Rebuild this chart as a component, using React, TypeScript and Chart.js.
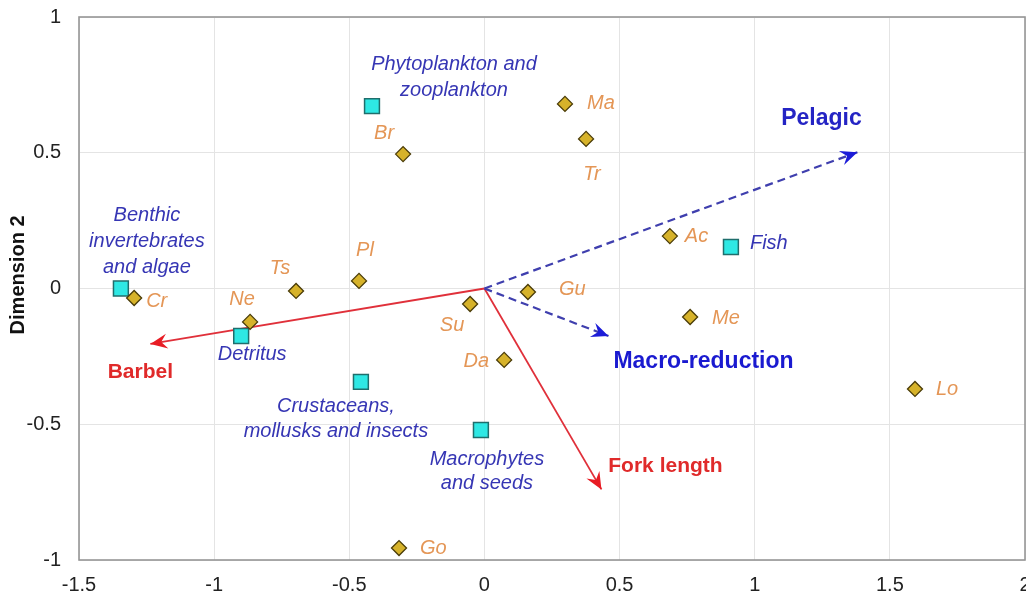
import React, { useEffect, useRef } from "react";
import { Chart, registerables } from "chart.js";

Chart.register(...registerables);

// ---------- DATA ----------
const speciesNames = ["Cr", "Ne", "Ts", "Pl", "Br", "Ma", "Tr", "Ac", "Gu", "Su", "Da", "Me", "Lo", "Go"];
const speciesX = [-1.296, -0.867, -0.697, -0.464, -0.301, 0.298, 0.376, 0.686, 0.161, -0.053, 0.073, 0.761, 1.593, -0.316];
const speciesY = [-0.035, -0.123, -0.009, 0.028, 0.495, 0.68, 0.551, 0.193, -0.013, -0.057, -0.263, -0.105, -0.37, -0.956];

const dietNames = [
  "Benthic\ninvertebrates\nand algae",
  "Detritus",
  "Phytoplankton and\nzooplankton",
  "Crustaceans,\nmollusks and insects",
  "Macrophytes\nand seeds",
  "Fish",
];
const dietX = [-1.345, -0.9, -0.416, -0.457, -0.013, 0.912];
const dietY = [0.0, -0.175, 0.672, -0.344, -0.521, 0.153];

const vectorNames = ["Pelagic", "Macro-reduction", "Barbel", "Fork length"];
const vectorX = [1.38, 0.459, -1.236, 0.433];
const vectorY = [0.502, -0.175, -0.204, -0.74];

const xTicks = [-1.5, -1, -0.5, 0, 0.5, 1, 1.5, 2];
const yTicks = [-1, -0.5, 0, 0.5, 1];
const yTitle = "Dimension 2";

// ---------- LABEL LAYOUT (pixel offsets from the mark) ----------
type Lay = [number, number, CanvasTextAlign, number?];
const speciesLayout: Lay[] = [
  [12, 3, "left"], [-8, -22, "center"], [-16, -23, "center"], [6, -30, "center"],
  [-19, -21, "center"], [22, 0, "left"], [6, 36, "center"], [15, 0, "left"],
  [31, -3, "left"], [-18, 21, "center"], [-15, 2, "right"], [22, 1, "left"],
  [21, 0, "left"], [21, 0, "left"],
];
const dietLayout: Lay[] = [
  [26, -73, "center", 26], [11, 18, "center"], [82, -42, "center", 26],
  [-25, 25, "center", 25], [6, 29, "center", 24], [19, -4, "left"],
];
const vectorLayout: Lay[] = [
  [-36, -34, "center"], [95, 26, "center"], [-10, 28, "center"], [64, -23, "center"],
];
const vectorStyle = [
  { line: "#3f3fae", head: "#1c1cd8", text: "#2424c4", dash: [8, 5], width: 2.2, font: "bold 23px 'Liberation Sans', Arial, sans-serif" },
  { line: "#3f3fae", head: "#1c1cd8", text: "#1a1ad0", dash: [8, 5], width: 2.2, font: "bold 23px 'Liberation Sans', Arial, sans-serif" },
  { line: "#e0303a", head: "#e81c24", text: "#e02a2a", dash: [], width: 1.8, font: "bold 21px 'Liberation Sans', Arial, sans-serif" },
  { line: "#e0303a", head: "#e81c24", text: "#e02a2a", dash: [], width: 1.8, font: "bold 21px 'Liberation Sans', Arial, sans-serif" },
];

const FONT_FAMILY = "'Liberation Sans', Arial, sans-serif";

function drawText(ctx: CanvasRenderingContext2D, text: string, x: number, y: number, font: string, color: string, align: CanvasTextAlign, lh = 24) {
  ctx.save();
  ctx.font = font;
  ctx.fillStyle = color;
  ctx.textAlign = align;
  ctx.textBaseline = "middle";
  text.split("\n").forEach((line, i) => ctx.fillText(line, x, y + i * lh));
  ctx.restore();
}

const overlayPlugin = {
  id: "overlay",
  beforeDatasetsDraw(chart: any) {
    const { ctx, chartArea: a } = chart;
    ctx.save();
    ctx.strokeStyle = "#969696";
    ctx.lineWidth = 1.6;
    ctx.strokeRect(a.left, a.top, a.right - a.left, a.bottom - a.top);
    ctx.restore();
  },
  afterDatasetsDraw(chart: any) {
    const { ctx } = chart;
    const xs = chart.scales.x;
    const ys = chart.scales.y;
    const ox = xs.getPixelForValue(0);
    const oy = ys.getPixelForValue(0);

    // tick labels from the scales' ticks
    xs.ticks.forEach((t: any) => {
      drawText(ctx, String(t.value), xs.getPixelForValue(t.value), ys.bottom + 25, `20px ${FONT_FAMILY}`, "#222", "center");
    });
    ys.ticks.forEach((t: any) => {
      drawText(ctx, String(t.value), xs.left - 18, ys.getPixelForValue(t.value), `20px ${FONT_FAMILY}`, "#222", "right");
    });

    // arrow heads + vector labels
    vectorNames.forEach((name, i) => {
      const tx = xs.getPixelForValue(vectorX[i]);
      const ty = ys.getPixelForValue(vectorY[i]);
      const ang = Math.atan2(ty - oy, tx - ox);
      const st = vectorStyle[i];
      ctx.save();
      ctx.translate(tx, ty);
      ctx.rotate(ang);
      ctx.fillStyle = st.head;
      ctx.beginPath();
      ctx.moveTo(0, 0);
      ctx.lineTo(-17, -7.5);
      ctx.lineTo(-11, 0);
      ctx.lineTo(-17, 7.5);
      ctx.closePath();
      ctx.fill();
      ctx.restore();
      const [dx, dy, al] = vectorLayout[i];
      drawText(ctx, name, tx + dx, ty + dy, st.font, st.text, al);
    });

    // species labels
    speciesNames.forEach((name, i) => {
      const px = xs.getPixelForValue(speciesX[i]);
      const py = ys.getPixelForValue(speciesY[i]);
      const [dx, dy, al] = speciesLayout[i];
      drawText(ctx, name, px + dx, py + dy, `italic 20px ${FONT_FAMILY}`, "#e49656", al);
    });

    // diet labels
    dietNames.forEach((name, i) => {
      const px = xs.getPixelForValue(dietX[i]);
      const py = ys.getPixelForValue(dietY[i]);
      const [dx, dy, al, lh] = dietLayout[i];
      drawText(ctx, name, px + dx, py + dy, `italic 20px ${FONT_FAMILY}`, "#3636b4", al, lh ?? 24);
    });

    // y title
    ctx.save();
    ctx.translate(18, ys.getPixelForValue(0.05));
    ctx.rotate(-Math.PI / 2);
    ctx.font = `bold 20px ${FONT_FAMILY}`;
    ctx.fillStyle = "#111";
    ctx.textAlign = "center";
    ctx.textBaseline = "middle";
    ctx.fillText(yTitle, 0, 0);
    ctx.restore();
  },
};

export default function App() {
  const ref = useRef<HTMLCanvasElement | null>(null);

  useEffect(() => {
    if (!ref.current) return;
    const vectorDatasets = vectorNames.map((name, i) => ({
      label: name,
      data: [
        { x: 0, y: 0 },
        { x: vectorX[i], y: vectorY[i] },
      ],
      showLine: true,
      borderColor: vectorStyle[i].line,
      borderWidth: vectorStyle[i].width,
      borderDash: vectorStyle[i].dash,
      pointRadius: 0,
      fill: false,
      order: 5,
    }));

    const chart = new Chart(ref.current, {
      type: "scatter",
      data: {
        datasets: [
          {
            label: "Species",
            data: speciesX.map((x, i) => ({ x, y: speciesY[i] })),
            pointStyle: "rectRot",
            pointRadius: 7.5,
            backgroundColor: "#d6b22a",
            borderColor: "#4a3c08",
            borderWidth: 1.3,
            order: 0,
          },
          {
            label: "Diet",
            data: dietX.map((x, i) => ({ x, y: dietY[i] })),
            pointStyle: "rect",
            pointRadius: 10.5,
            backgroundColor: "#2ee8e4",
            borderColor: "#1f6e6c",
            borderWidth: 1.5,
            order: 1,
          },
          ...vectorDatasets,
        ] as any,
      },
      options: {
        animation: false,
        responsive: false,
        devicePixelRatio: 1,
        layout: { autoPadding: false, padding: { top: 17, right: 1, left: 0, bottom: 0 } },
        plugins: { legend: { display: false }, tooltip: { enabled: false } },
        scales: {
          x: {
            type: "linear",
            min: -1.5,
            max: 2,
            afterBuildTicks: (s: any) => {
              s.ticks = xTicks.map((v) => ({ value: v }));
            },
            afterFit: (s: any) => {
              s.height = 36;
            },
            grid: { color: "#e4e4e4", lineWidth: 1, drawTicks: false },
            border: { display: false },
            ticks: { display: false },
          },
          y: {
            type: "linear",
            min: -1,
            max: 1,
            afterBuildTicks: (s: any) => {
              s.ticks = yTicks.map((v) => ({ value: v }));
            },
            afterFit: (s: any) => {
              s.width = 79;
            },
            grid: { color: "#e4e4e4", lineWidth: 1, drawTicks: false },
            border: { display: false },
            ticks: { display: false },
          },
        },
      } as any,
      plugins: [overlayPlugin],
    });
    return () => chart.destroy();
  }, []);

  return (
    <div style={{ position: "fixed", left: 0, top: 0, width: 1026, height: 596, background: "#fff" }}>
      <canvas ref={ref} width={1026} height={596} style={{ display: "block" }} />
    </div>
  );
}
